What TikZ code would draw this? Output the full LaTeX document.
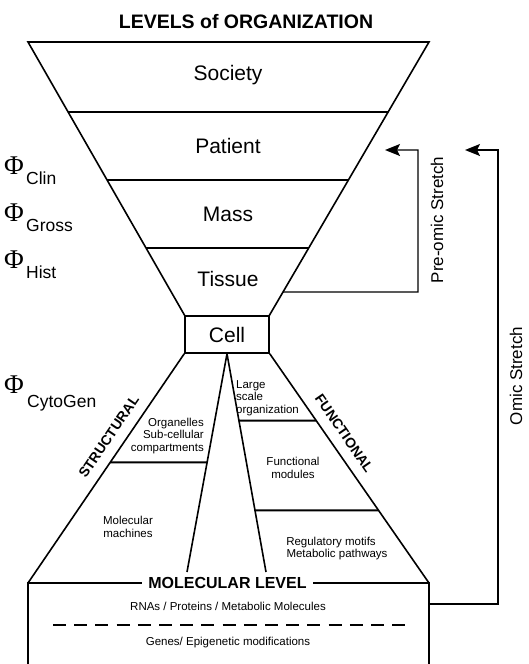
\documentclass[tikz,border=0pt]{standalone}
\usepackage{fontspec}
\setmainfont{Liberation Sans}
\newfontfamily\phifont{Liberation Serif}
\usetikzlibrary{arrows.meta,calc}

\tikzset{
  edge/.style={line width=1.6pt, line join=miter},
  divider/.style={line width=2pt},
  level/.style={font=\fontsize{21}{24}\selectfont, inner sep=0pt},
  small/.style={font=\fontsize{11.5}{12.5}\selectfont, inner sep=0pt},
  side/.style={font=\fontsize{14}{16}\selectfont\bfseries, inner sep=0pt, sloped, above=10.5pt},
  stretch/.style={font=\fontsize{17}{19}\selectfont, inner sep=0pt, rotate=90},
  phi/.style={font=\phifont\fontsize{27}{29}\selectfont, inner sep=0pt, anchor=base west},
  phisub/.style={font=\fontsize{17.5}{19}\selectfont, inner sep=0pt, anchor=base west},
  loop/.style={line width=1.4pt, -{Stealth[length=15pt,width=12pt,inset=3pt]}},
}

\begin{document}
\begin{tikzpicture}[x=1pt,y=-1pt]
\useasboundingbox (0,0) rectangle (528,664);

% title
\node[font=\fontsize{19.5}{22}\selectfont\bfseries, inner sep=0pt] (title) at (246,22) {LEVELS of ORGANIZATION};

% upper funnel corners
\coordinate (tl) at (28,42);
\coordinate (tr) at (429,42);
\coordinate (bl) at (185,316);
\coordinate (br) at (269,316);
\draw[edge] (tl) -- (tr) -- (br) -- (bl) -- cycle;

% level dividers
\foreach \f/\n in {0.2555/a,0.5036/b,0.7518/c}{
  \coordinate (l\n) at ($(tl)!\f!(bl)$);
  \coordinate (r\n) at ($(tr)!\f!(br)$);
  \draw[divider] (l\n) -- (r\n);
}

\node[level] (society) at (228,75) {Society};
\node[level] (patient) at (228,146) {Patient};
\node[level] (mass) at (228,214) {Mass};
\node[level] (tissue) at (228,279) {Tissue};

% cell box
\node[draw, edge, minimum width=84pt, minimum height=37pt, inner sep=0pt,
      font=\fontsize{21}{24}\selectfont] (cell) at (227,334.5) {Cell};

% lower funnel
\coordinate (ml) at (28,583);
\coordinate (mr) at (429,583);
\coordinate (sl) at (187,572);
\coordinate (sr) at (266,572);
\draw[edge] (cell.south west) -- (ml);
\draw[edge] (cell.south east) -- (mr);
\draw[edge] (cell.south) -- (sl);
\draw[edge] (cell.south) -- (sr);

% structural / functional dividers
\draw[divider] ($(cell.south west)!0.474!(ml)$) -- ($(cell.south)!0.498!(sl)$);
\draw[divider] ($(cell.south)!0.306!(sr)$) -- ($(cell.south east)!0.291!(mr)$);
\draw[divider] ($(cell.south)!0.717!(sr)$) -- ($(cell.south east)!0.683!(mr)$);

% branch labels along the outer edges
\path (ml) -- (cell.south west) node[side, pos=0.60] (structural) {STRUCTURAL};
\path (cell.south east) -- (mr) node[side, pos=0.387] (functional) {FUNCTIONAL};

\node[small, anchor=west, align=left] (large) at (236,398) {Large\\scale\\organization};
\node[small, anchor=east, align=right] (organelles) at (204,436) {Organelles\\Sub-cellular\\compartments};
\node[small, align=center] (modules) at (293,468) {Functional\\modules};
\node[small, align=center] (machines) at (128,527) {Molecular\\machines};
\node[small, align=center] (motifs) at (331,548.5) {Regulatory motifs\\\hspace*{12pt}Metabolic pathways};

% molecular level box
\coordinate (mlb) at (28,664);
\coordinate (mrb) at (429,664);
\draw[edge] (mlb) -- (ml) -- (mr) -- (mrb);
\node[fill=white, inner xsep=6pt, inner ysep=2pt, font=\fontsize{16}{18}\selectfont\bfseries] (molecular) at (227.5,583) {MOLECULAR LEVEL};
\node[small] (rnas) at (228,606) {RNAs / Proteins / Metabolic Molecules};
\coordinate (dl) at (53,625);
\coordinate (dr) at (406,625);
\draw[line width=1.7pt, dash pattern=on 13pt off 8.2pt] (dl) -- (dr);
\node[small] (genes) at (228,643) {Genes/ Epigenetic modifications};

% stretch arrows
\coordinate (preStart) at ($(tr)!0.9124!(br)$);
\coordinate (preTip) at (385,150);
\draw[loop] (preStart) -- (418,292) -- (418,150) -- (preTip);
\coordinate (omicStart) at (429,604);
\coordinate (omicTip) at (465,150);
\draw[loop] (omicStart) -- (498,604) -- (498,150) -- (omicTip);
\node[stretch] (pre) at (437,220) {Pre-omic Stretch};
\node[stretch] (omic) at (516,376) {Omic Stretch};

% phenotype levels
\node[phi] (phiA) at (4,174) {Φ};
\node[phisub] (subA) at (26,184) {Clin};
\node[phi] (phiB) at (4,221) {Φ};
\node[phisub] (subB) at (26,231) {Gross};
\node[phi] (phiC) at (4,268) {Φ};
\node[phisub] (subC) at (26,278) {Hist};
\node[phi] (phiD) at (4,393) {Φ};
\node[phisub] (subD) at (27,407) {CytoGen};
\end{tikzpicture}
\end{document}
